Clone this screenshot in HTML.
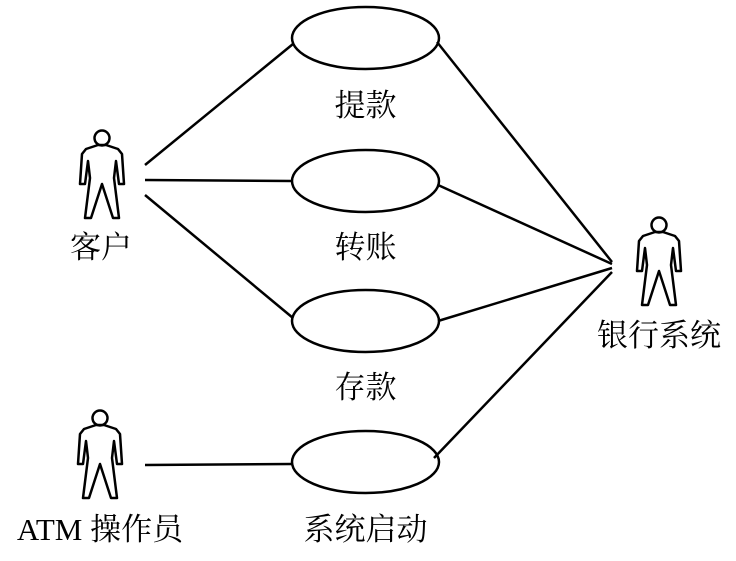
<!DOCTYPE html>
<html><head><meta charset="utf-8"><style>
html,body{margin:0;padding:0;background:#fff;}
svg{display:block;}
text{font-family:"Liberation Serif","Noto Serif CJK SC",serif;font-size:31px;fill:#000;}
</style></head><body>
<svg width="736" height="561" viewBox="0 0 736 561">
<defs>
<g id="actor">
<circle cx="0" cy="0" r="7.5" fill="none" stroke="#000" stroke-width="2.5"/>
<polygon points="-4,7 -16,11 -20,16 -22,46 -17,46 -14,23 -12,40 -17,80 -11,80 0,46 11,80 17,80 12,40 14,23 17,46 22,46 20,16 16,11 4,7" fill="none" stroke="#000" stroke-width="2.5" stroke-linejoin="round"/>
</g>
</defs>
<use href="#actor" x="102" y="138"/>
<use href="#actor" x="100" y="418"/>
<use href="#actor" x="659" y="225"/>
<g fill="none" stroke="#000" stroke-width="2.5">
<ellipse cx="365.5" cy="38" rx="73.5" ry="31"/>
<ellipse cx="365.5" cy="181" rx="73.5" ry="31"/>
<ellipse cx="365.5" cy="321" rx="73.5" ry="31"/>
<ellipse cx="365.5" cy="462" rx="73.5" ry="31"/>
<line x1="145" y1="165" x2="293" y2="44"/>
<line x1="145" y1="180" x2="292" y2="181"/>
<line x1="145" y1="195" x2="293" y2="318"/>
<line x1="145" y1="465" x2="292" y2="464"/>
<line x1="612" y1="262" x2="437" y2="42"/>
<line x1="612" y1="264" x2="438" y2="185"/>
<line x1="612" y1="268" x2="438" y2="321"/>
<line x1="612" y1="272" x2="434" y2="458"/>
</g>
<text x="365.5" y="116" text-anchor="middle">提款</text>
<text x="365.5" y="258" text-anchor="middle">转账</text>
<text x="365.5" y="398" text-anchor="middle">存款</text>
<text x="365.5" y="540" text-anchor="middle">系统启动</text>
<text x="101" y="258" text-anchor="middle">客户</text>
<text x="100" y="540" text-anchor="middle">ATM 操作员</text>
<text x="659" y="346" text-anchor="middle">银行系统</text>
</svg>
</body></html>
